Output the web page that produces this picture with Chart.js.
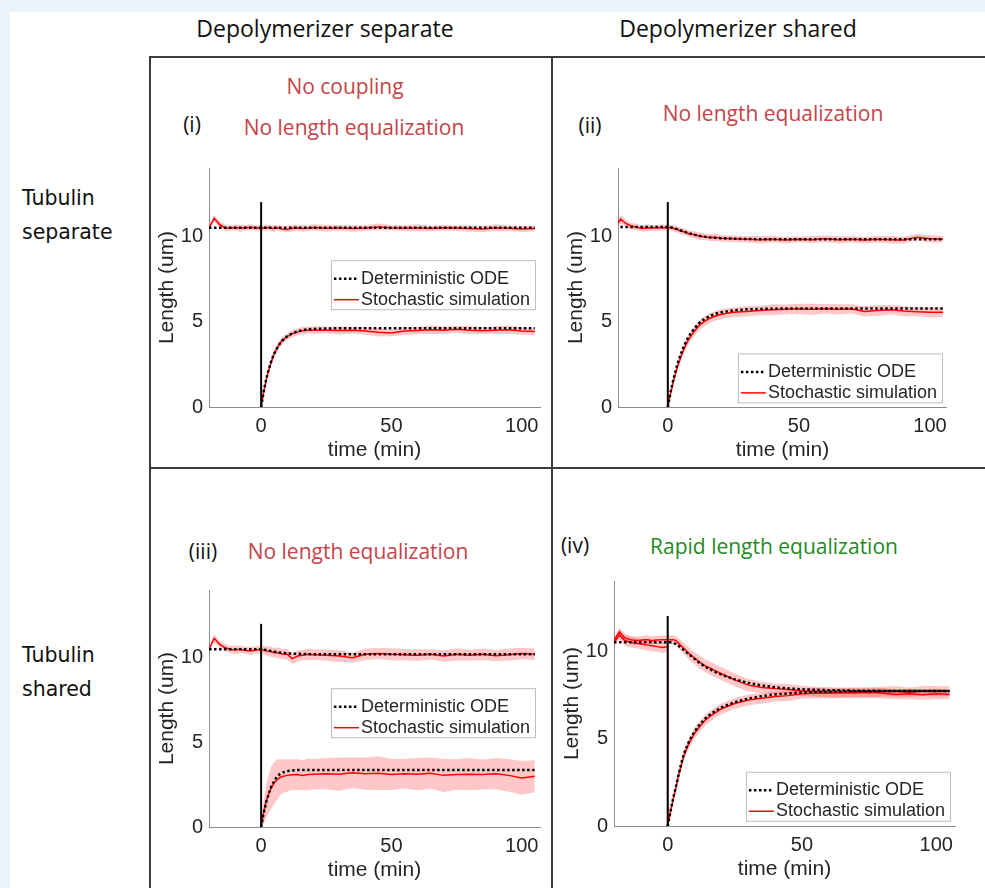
<!DOCTYPE html>
<html>
<head>
<meta charset="utf-8">
<script src="https://cdn.jsdelivr.net/npm/chart.js@4.4.1/dist/chart.umd.min.js"></script>
<style>
  body { margin: 0; background: #e8f3fa; width: 985px; height: 888px; overflow: hidden; position: relative; }
  #sheet { position: absolute; left: 10px; top: 12px; width: 975px; height: 876px; background: #fff; }
  .rule { position: absolute; background: #3c3c3c; }
  .txt { position: absolute; transform: translate(-50%, -50%); white-space: nowrap; font-family: "Open Sans", "Noto Sans", sans-serif; }
  .head { font-size: 23px; color: #111; }
  .tag { font-size: 21px; color: #111; }
  .red { font-size: 21px; color: #c4444a; }
  .green { font-size: 21px; color: #1f8a1f; }
  .row { position: absolute; left: 22px; font-family: "DejaVu Sans", sans-serif; font-size: 20.5px; line-height: 34px; color: #111; }
  canvas { position: absolute; }
</style>
</head>
<body>
<div id="sheet"></div>

<div class="rule" style="left:149px; top:56px; width:2px; height:832px"></div>
<div class="rule" style="left:551px; top:56px; width:2px; height:832px"></div>
<div class="rule" style="left:149px; top:56px; width:836px; height:2px"></div>
<div class="rule" style="left:149px; top:467px; width:836px; height:2px"></div>

<div class="txt head" style="left:325px; top:28px">Depolymerizer separate</div>
<div class="txt head" style="left:738px; top:28px">Depolymerizer shared</div>

<div class="row" style="top:181px">Tubulin<br>separate</div>
<div class="row" style="top:638px">Tubulin<br>shared</div>

<div class="txt tag" style="left:192px; top:124px">(i)</div>
<div class="txt red" style="left:345px; top:86px">No coupling</div>
<div class="txt red" style="left:354px; top:127px">No length equalization</div>

<div class="txt tag" style="left:590px; top:125px">(ii)</div>
<div class="txt red" style="left:773px; top:113px">No length equalization</div>

<div class="txt tag" style="left:203px; top:551px">(iii)</div>
<div class="txt red" style="left:358px; top:551px">No length equalization</div>

<div class="txt tag" style="left:575px; top:545px">(iv)</div>
<div class="txt green" style="left:774px; top:546px">Rapid length equalization</div>

<canvas id="panelA" width="395" height="315" style="left:152px; top:150px"></canvas>
<canvas id="panelB" width="393" height="315" style="left:561px; top:150px"></canvas>
<canvas id="panelC" width="395" height="313" style="left:152px; top:572px"></canvas>
<canvas id="panelD" width="405" height="321" style="left:557px; top:563px"></canvas>

<script>
/*----- data -----*/
// time grid of the stochastic runs (0 appears twice: just before / just after the cut)
const tStoch = [-20, -18, -16, -14, -12, -10, -8, -6, -4, -2,
  0, 0, 1, 2, 3, 4, 5, 6, 7, 8,
  10, 12, 14, 16, 18, 20,
  25, 30, 35, 40, 45, 50, 55, 60, 65, 70, 75, 80, 85, 90, 95, 100, 105]
// time grid of the ODE solution
const tOde = [-20, 0,
  1, 2, 3, 4, 5, 6, 7, 8,
  10, 12, 14, 16, 18, 20,
  25, 30, 35, 40, 45, 50,
  60, 70, 80, 90, 100, 105]

const tickX = [0, 50, 100]
const tickY = [0, 5, 10]
const cutTimes = [0, 0]
const cutLengths = [0, 12]
const legendLabels = ['Deterministic ODE', 'Stochastic simulation']

// (i) depolymerizer separate, tubulin separate
const odeTopA = [10.5, 10.5,
  10.5, 10.5, 10.5, 10.5, 10.5, 10.5, 10.5, 10.5,
  10.5, 10.5, 10.5, 10.5, 10.5, 10.5,
  10.5, 10.5, 10.5, 10.5, 10.5, 10.5,
  10.5, 10.5, 10.5, 10.5, 10.5, 10.5]
const odeBotA = [null, 0,
  0.92, 1.66, 2.25, 2.73, 3.12, 3.42, 3.67, 3.87,
  4.14, 4.32, 4.43, 4.5, 4.55, 4.57,
  4.6, 4.61, 4.61, 4.61, 4.61, 4.61,
  4.61, 4.61, 4.61, 4.61, 4.61, 4.61]
const stoTopA = [10.5, 11.05, 10.7, 10.5, 10.48, 10.52, 10.47, 10.5, 10.53, 10.48,
  10.5, 10.5, 10.48, 10.5, 10.52, 10.47, 10.45, 10.5, 10.48, 10.43,
  10.4, 10.47, 10.5, 10.45, 10.48, 10.52,
  10.47, 10.5, 10.45, 10.48, 10.55, 10.5, 10.47, 10.5, 10.46, 10.5, 10.48, 10.45, 10.42, 10.5, 10.47, 10.43, 10.46]
const sdTopA = [0.1, 0.2, 0.2, 0.18, 0.15, 0.17, 0.2, 0.16, 0.18, 0.15,
  0.17, 0.17, 0.16, 0.18, 0.15, 0.17, 0.2, 0.16, 0.18, 0.15,
  0.17, 0.2, 0.16, 0.19, 0.15, 0.18,
  0.2, 0.16, 0.19, 0.17, 0.2, 0.15, 0.18, 0.2, 0.16, 0.18, 0.15, 0.19, 0.17, 0.2, 0.16, 0.18, 0.17]
const stoBotA = [null, null, null, null, null, null, null, null, null, null,
  null, 0, 0.9, 1.62, 2.2, 2.7, 3.1, 3.42, 3.68, 3.88,
  4.12, 4.3, 4.4, 4.47, 4.5, 4.5,
  4.5, 4.48, 4.5, 4.45, 4.38, 4.34, 4.45, 4.48, 4.52, 4.5, 4.55, 4.5, 4.47, 4.5, 4.52, 4.45, 4.42]
const sdBotA = [null, null, null, null, null, null, null, null, null, null,
  null, 0, 0.08, 0.12, 0.15, 0.18, 0.2, 0.2, 0.22, 0.22,
  0.2, 0.22, 0.2, 0.23, 0.2, 0.22,
  0.2, 0.24, 0.2, 0.22, 0.25, 0.2, 0.23, 0.2, 0.25, 0.22, 0.2, 0.24, 0.2, 0.23, 0.25, 0.2, 0.22]

// (ii) depolymerizer shared, tubulin separate
const odeTopB = [10.55, 10.55,
  10.53, 10.5, 10.45, 10.4, 10.34, 10.28, 10.23, 10.18,
  10.1, 10.03, 9.98, 9.94, 9.91, 9.89,
  9.86, 9.84, 9.83, 9.82, 9.82, 9.82,
  9.82, 9.82, 9.82, 9.82, 9.82, 9.82]
const odeBotB = [null, 0,
  0.82, 1.53, 2.14, 2.67, 3.12, 3.51, 3.85, 4.14,
  4.58, 4.92, 5.16, 5.33, 5.45, 5.54,
  5.66, 5.72, 5.74, 5.76, 5.77, 5.77,
  5.77, 5.77, 5.77, 5.77, 5.77, 5.77]
const stoTopB = [10.55, 11.0, 10.75, 10.6, 10.55, 10.45, 10.5, 10.48, 10.5, 10.52,
  10.5, 10.5, 10.5, 10.47, 10.42, 10.38, 10.3, 10.28, 10.22, 10.15,
  10.1, 10.0, 9.98, 9.92, 9.95, 9.88,
  9.85, 9.82, 9.8, 9.83, 9.78, 9.82, 9.8, 9.85, 9.8, 9.82, 9.78, 9.83, 9.8, 9.78, 9.95, 9.85, 9.82]
const sdTopB = [0.1, 0.25, 0.2, 0.18, 0.2, 0.17, 0.2, 0.16, 0.18, 0.17,
  0.17, 0.17, 0.16, 0.18, 0.2, 0.17, 0.2, 0.18, 0.2, 0.19,
  0.2, 0.22, 0.18, 0.2, 0.22, 0.19,
  0.2, 0.18, 0.22, 0.19, 0.2, 0.17, 0.21, 0.19, 0.22, 0.18, 0.2, 0.19, 0.22, 0.2, 0.18, 0.21, 0.19]
const stoBotB = [null, null, null, null, null, null, null, null, null, null,
  null, 0, 0.75, 1.42, 2.0, 2.5, 2.95, 3.35, 3.68, 3.98,
  4.42, 4.78, 5.02, 5.2, 5.32, 5.42,
  5.55, 5.6, 5.65, 5.7, 5.72, 5.75, 5.72, 5.75, 5.72, 5.75, 5.6, 5.65, 5.7, 5.62, 5.58, 5.55, 5.55]
const sdBotB = [null, null, null, null, null, null, null, null, null, null,
  null, 0, 0.1, 0.15, 0.2, 0.22, 0.25, 0.25, 0.27, 0.28,
  0.28, 0.3, 0.28, 0.3, 0.27, 0.3,
  0.28, 0.3, 0.27, 0.32, 0.28, 0.3, 0.33, 0.28, 0.3, 0.27, 0.3, 0.32, 0.28, 0.3, 0.27, 0.3, 0.28]

// (iii) depolymerizer separate, tubulin shared
const odeTopC = [10.5, 10.5,
  10.48, 10.45, 10.42, 10.39, 10.36, 10.33, 10.31, 10.29,
  10.26, 10.24, 10.23, 10.22, 10.21, 10.21,
  10.2, 10.2, 10.2, 10.2, 10.2, 10.2,
  10.2, 10.2, 10.2, 10.2, 10.2, 10.2]
const odeBotC = [null, 0,
  0.85, 1.5, 2.0, 2.42, 2.72, 2.95, 3.1, 3.2,
  3.3, 3.34, 3.36, 3.37, 3.37, 3.37,
  3.37, 3.37, 3.37, 3.37, 3.37, 3.37,
  3.37, 3.37, 3.37, 3.37, 3.37, 3.37]
const stoTopC = [10.5, 11.15, 10.8, 10.6, 10.5, 10.45, 10.5, 10.43, 10.4, 10.45,
  10.5, 10.5, 10.45, 10.4, 10.38, 10.35, 10.3, 10.3, 10.28, 10.22,
  10.2, 9.95, 10.1, 10.15, 10.2, 10.18,
  10.15, 10.1, 10.0, 10.2, 10.25, 10.2, 10.18, 10.15, 10.2, 10.1, 10.2, 10.15, 10.2, 10.12, 10.18, 10.25, 10.2]
const sdTopC = [0.1, 0.25, 0.2, 0.22, 0.2, 0.25, 0.22, 0.2, 0.25, 0.22,
  0.25, 0.25, 0.25, 0.28, 0.3, 0.3, 0.28, 0.3, 0.32, 0.3,
  0.32, 0.3, 0.33, 0.3, 0.35, 0.32,
  0.33, 0.35, 0.3, 0.35, 0.32, 0.36, 0.33, 0.35, 0.3, 0.34, 0.36, 0.32, 0.35, 0.33, 0.36, 0.34, 0.35]
const stoBotC = [null, null, null, null, null, null, null, null, null, null,
  null, 0, 0.9, 1.55, 2.0, 2.35, 2.6, 2.78, 2.9, 2.98,
  3.05, 3.08, 3.1, 3.05, 3.1, 3.12,
  3.15, 3.12, 3.2, 3.15, 3.18, 3.1, 3.15, 3.12, 3.18, 3.05, 3.1, 3.12, 3.1, 3.15, 3.05, 2.9, 3.0]
const sdBotC = [null, null, null, null, null, null, null, null, null, null,
  null, 0, 0.7, 1.0, 1.15, 1.25, 1.25, 1.2, 1.1, 1.0,
  0.95, 0.9, 0.92, 0.88, 0.95, 0.9,
  0.92, 0.98, 0.9, 0.95, 1.0, 0.92, 0.88, 0.95, 0.92, 0.98, 0.9, 0.95, 0.88, 0.92, 0.97, 1.0, 0.95]

// (iv) depolymerizer shared, tubulin shared
const odeTopD = [10.5, 10.5,
  10.5, 10.47, 10.4, 10.3, 10.18, 10.05, 9.92, 9.8,
  9.55, 9.3, 9.1, 8.93, 8.78, 8.65,
  8.38, 8.18, 8.03, 7.93, 7.86, 7.81,
  7.76, 7.73, 7.72, 7.72, 7.72, 7.72]
const odeBotD = [null, 0,
  0.8, 1.55, 2.2, 2.9, 3.55, 4.1, 4.5, 4.85,
  5.4, 5.8, 6.15, 6.4, 6.6, 6.78,
  7.08, 7.28, 7.42, 7.52, 7.58, 7.63,
  7.68, 7.7, 7.71, 7.72, 7.72, 7.72]
const stoTopD = [10.6, 11.1, 10.75, 10.65, 10.6, 10.62, 10.65, 10.6, 10.63, 10.65,
  10.65, 10.65, 10.65, 10.65, 10.6, 10.45, 10.3, 10.15, 10.0, 9.85,
  9.6, 9.35, 9.15, 9.0, 8.85, 8.7,
  8.35, 8.05, 7.92, 7.85, 7.8, 7.72, 7.68, 7.65, 7.62, 7.6, 7.65, 7.58, 7.52, 7.55, 7.5, 7.55, 7.52]
const sdTopD = [0.15, 0.25, 0.25, 0.22, 0.25, 0.22, 0.25, 0.23, 0.25, 0.22,
  0.25, 0.25, 0.25, 0.25, 0.27, 0.3, 0.3, 0.32, 0.33, 0.35,
  0.35, 0.38, 0.36, 0.38, 0.35, 0.37,
  0.36, 0.35, 0.33, 0.3, 0.32, 0.3, 0.28, 0.3, 0.27, 0.3, 0.28, 0.3, 0.27, 0.3, 0.28, 0.3, 0.27]
const stoBotD = [10.5, 10.9, 10.6, 10.5, 10.45, 10.4, 10.35, 10.3, 10.25, 10.2,
  10.25, 0, 0.8, 1.5, 2.15, 2.85, 3.45, 4.0, 4.4, 4.75,
  5.3, 5.7, 6.05, 6.3, 6.5, 6.7,
  7.0, 7.2, 7.3, 7.4, 7.45, 7.55, 7.6, 7.58, 7.62, 7.65, 7.6, 7.68, 7.7, 7.65, 7.72, 7.7, 7.72]
const sdBotD = [0.15, 0.25, 0.28, 0.3, 0.28, 0.3, 0.32, 0.3, 0.3, 0.32,
  0.3, 0, 0.1, 0.15, 0.2, 0.22, 0.25, 0.27, 0.28, 0.3,
  0.3, 0.32, 0.3, 0.32, 0.3, 0.32,
  0.3, 0.32, 0.3, 0.28, 0.3, 0.27, 0.3, 0.28, 0.3, 0.27, 0.3, 0.28, 0.3, 0.27, 0.28, 0.3, 0.27]

/*----- styling -----*/
const axisFont = '"Liberation Sans", Helvetica, Arial, sans-serif'
const inkColor = '#262626'
const bandColor = 'rgba(255, 0, 0, 0.22)'

/*----- plugins -----*/
// legend box drawn inside the axes, like the matlab one
const boxLegend = {
    id: 'boxLegend',
    afterDatasetsDraw(chart, args, opts) {
        const ctx = chart.ctx
        const area = chart.chartArea
        const top = chart.scales.y.getPixelForValue(opts.topValue)
        ctx.save()
        ctx.font = '18px ' + axisFont
        const textW = Math.max(...opts.labels.map(l => ctx.measureText(l).width))
        const w = textW + 35
        const h = 49
        const left = area.right - 5 - w
        ctx.fillStyle = '#fff'
        ctx.fillRect(left, top, w, h)
        ctx.strokeStyle = '#bdbdbd'
        ctx.lineWidth = 1
        ctx.strokeRect(left + 0.5, top + 0.5, w, h)
        ctx.textBaseline = 'middle'
        ctx.fillStyle = inkColor
        // ODE sample
        ctx.strokeStyle = '#000'
        ctx.lineWidth = 2.5
        ctx.setLineDash([2.5, 2.5])
        ctx.beginPath(); ctx.moveTo(left + 3, top + 18.5); ctx.lineTo(left + 28, top + 18.5); ctx.stroke()
        ctx.fillText(opts.labels[0], left + 30, top + 18.5)
        // stochastic sample
        ctx.strokeStyle = '#ff0000'
        ctx.lineWidth = 1.5
        ctx.setLineDash([])
        ctx.beginPath(); ctx.moveTo(left + 3, top + 39.5); ctx.lineTo(left + 28, top + 39.5); ctx.stroke()
        ctx.fillText(opts.labels[1], left + 30, top + 39.5)
        ctx.restore()
    }
}

/*----- functions -----*/
function pts(times, values, shift, sign) {
    return times.map((t, i) => {
        const v = values[i]
        if (v === null) return {x: t, y: null}
        return {x: t, y: shift ? v + sign * shift[i] : v}
    })
}

function buildPanel(canvasId, p) {
    const line = (data, color, width, dash) => ({
        data: data, borderColor: color, borderWidth: width, borderDash: dash || [],
        pointRadius: 0, fill: false, tension: 0
    })
    const edge = (data) => ({data: data, borderWidth: 0, pointRadius: 0, fill: false, backgroundColor: bandColor})
    const datasets = [
        line(cutTimes.map((t, i) => ({x: t, y: cutLengths[i]})), '#000', 2),
        line(pts(tOde, p.odeTop), '#000', 2.5, [2.5, 2.5]),
        line(pts(tOde, p.odeBot), '#000', 2.5, [2.5, 2.5]),
        line(pts(tStoch, p.stoTop), '#ff0000', 1.5),
        line(pts(tStoch, p.stoBot), '#ff0000', 1.5),
        edge(pts(tStoch, p.stoTop, p.sdTop, -1)),
        Object.assign(edge(pts(tStoch, p.stoTop, p.sdTop, 1)), {fill: 5}),
        edge(pts(tStoch, p.stoBot, p.sdBot, -1)),
        Object.assign(edge(pts(tStoch, p.stoBot, p.sdBot, 1)), {fill: 7})
    ]

    new Chart(document.getElementById(canvasId), {
        type: 'line',
        data: {datasets: datasets},
        plugins: [boxLegend],
        options: {
            responsive: false,
            animation: false,
            layout: {padding: {top: 15, right: 7, left: 0, bottom: 0}},
            plugins: {
                legend: {display: false},
                tooltip: {enabled: false},
                boxLegend: {topValue: p.legendTop, labels: legendLabels}
            },
            scales: {
                x: {
                    type: 'linear', min: p.xMin, max: p.xMax,
                    grid: {display: false, drawTicks: false},
                    border: {color: '#8c8c8c', width: 1},
                    ticks: {font: {family: axisFont, size: 20}, color: inkColor, padding: 7},
                    afterBuildTicks: s => { s.ticks = tickX.map(v => ({value: v})) },
                    afterFit: s => { s.height = 58 },
                    title: {display: true, text: 'time (min)', color: inkColor,
                        font: {family: axisFont, size: 21}, padding: {top: 0, bottom: 2}}
                },
                y: {
                    type: 'linear', min: 0, max: 14,
                    grid: {display: false, drawTicks: false},
                    border: {color: '#8c8c8c', width: 1},
                    ticks: {font: {family: axisFont, size: 20}, color: inkColor, padding: 6},
                    afterBuildTicks: s => { s.ticks = tickY.map(v => ({value: v})) },
                    afterFit: s => { s.width = 57 },
                    title: {display: true, text: 'Length (um)', color: inkColor,
                        font: {family: axisFont, size: 21}, padding: {top: 2.5, bottom: 0}}
                }
            }
        }
    })
}

buildPanel('panelA', {odeTop: odeTopA, odeBot: odeBotA, stoTop: stoTopA, sdTop: sdTopA, stoBot: stoBotA, sdBot: sdBotA,
    xMin: -20, xMax: 107, legendTop: 8.6})
buildPanel('panelB', {odeTop: odeTopB, odeBot: odeBotB, stoTop: stoTopB, sdTop: sdTopB, stoBot: stoBotB, sdBot: sdBotB,
    xMin: -19, xMax: 106.5, legendTop: 3.14})
buildPanel('panelC', {odeTop: odeTopC, odeBot: odeBotC, stoTop: stoTopC, sdTop: sdTopC, stoBot: stoBotC, sdBot: sdBotC,
    xMin: -20, xMax: 107, legendTop: 8.2})
buildPanel('panelD', {odeTop: odeTopD, odeBot: odeBotD, stoTop: stoTopD, sdTop: sdTopD, stoBot: stoBotD, sdBot: sdBotD,
    xMin: -20, xMax: 107, legendTop: 3.1})
</script>
</body>
</html>
